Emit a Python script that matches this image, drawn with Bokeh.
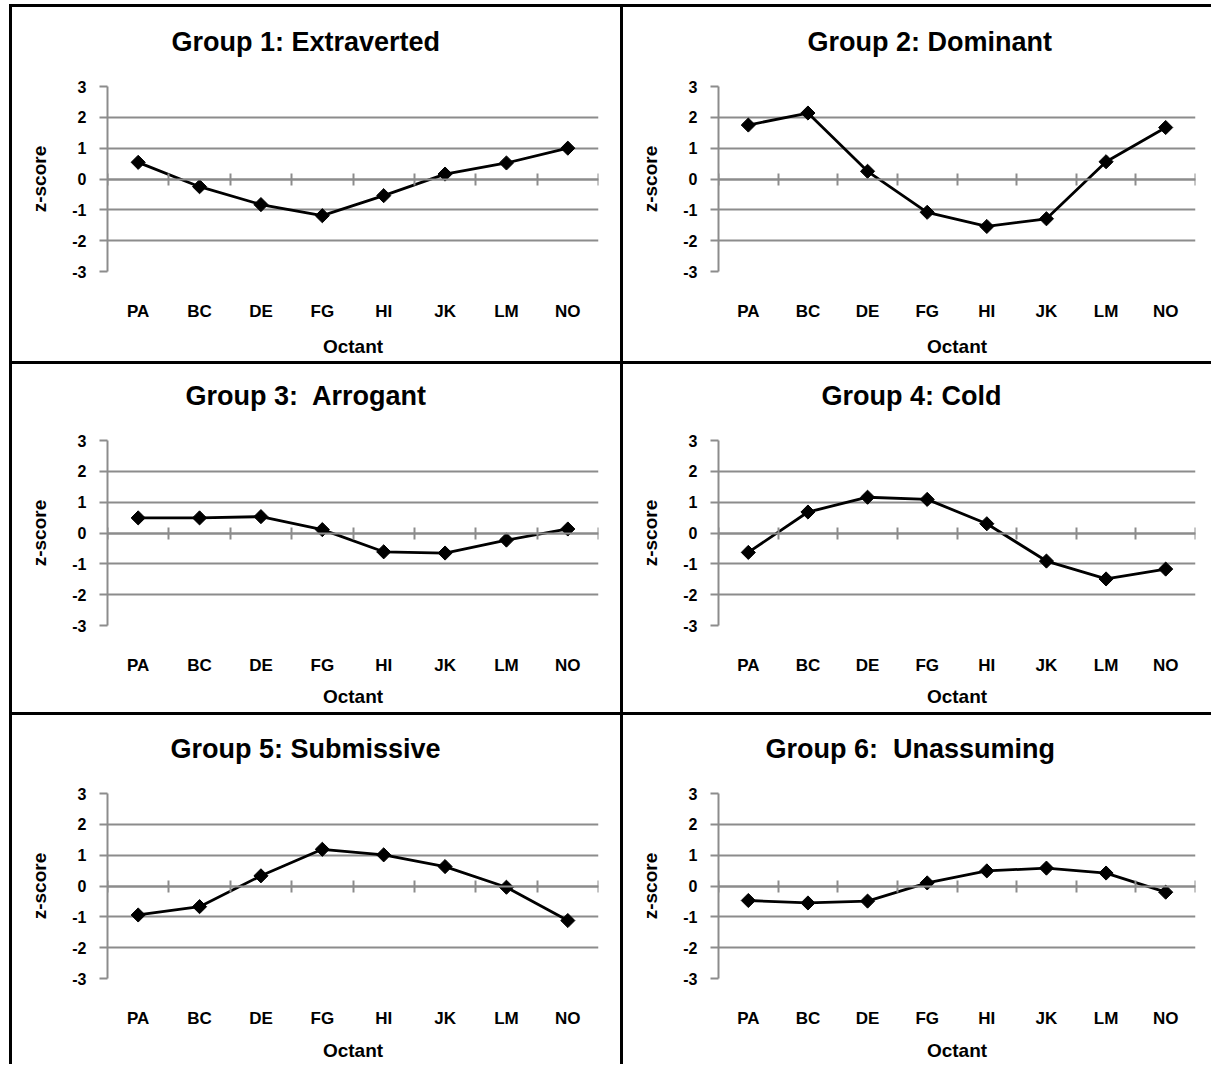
from bokeh.plotting import figure
from bokeh.layouts import row, column
from bokeh.models import Range1d, LinearAxis, FixedTicker, Spacer, Title
from bokeh.embed import file_html
from bokeh.resources import INLINE
import math

# ---------------- data ----------------
octants = ["PA", "BC", "DE", "FG", "HI", "JK", "LM", "NO"]
y_ticks = [-3, -2, -1, 0, 1, 2, 3]

titles = ["Group 1: Extraverted", "Group 2: Dominant", "Group 3:\u00a0 Arrogant",
          "Group 4: Cold", "Group 5: Submissive", "Group 6:\u00a0 Unassuming"]

group1 = [0.54, -0.25, -0.83, -1.19, -0.54, 0.16, 0.52, 1.00]
group2 = [1.75, 2.14, 0.25, -1.08, -1.54, -1.29, 0.56, 1.67]
group3 = [0.49, 0.49, 0.53, 0.11, -0.61, -0.65, -0.23, 0.13]
group4 = [-0.63, 0.68, 1.16, 1.09, 0.30, -0.91, -1.49, -1.17]
group5 = [-0.94, -0.67, 0.33, 1.19, 1.01, 0.63, -0.04, -1.12]
group6 = [-0.47, -0.55, -0.49, 0.10, 0.49, 0.58, 0.42, -0.20]

x_label = "Octant"
y_label = "z-score"

FONT = "Liberation Sans"
GRID = "#8c8c8c"
RULE = "black"

# category slots: each octant occupies one unit, centred at i + 0.5
n = len(octants)
centers = [i + 0.5 for i in range(n)]
edges = list(range(n + 1))

# ---------------- layout geometry ----------------
col_w = [608, 588]
row_h = [354, 348, 349]
col_left = [95, 95]
col_right = [22, 16]
row_top = [79, 76, 78]
row_bottom = [90, 87, 86]
xlabel_standoff = [12, 8, 9]
title_off = [[64, 89], [78, 103], [63, 47]]
TITLE_GAP = 25
RULE_W = 3


def make_panel(r, c, title, vals):
    W, H = col_w[c], row_h[r]
    p = figure(width=W, height=H,
               x_range=Range1d(0, n), y_range=Range1d(-3, 3),
               output_backend="svg", toolbar_location=None,
               min_border_left=col_left[c], min_border_right=col_right[c],
               min_border_top=row_top[r], min_border_bottom=row_bottom[r])
    p.outline_line_color = None
    p.background_fill_color = "white"
    p.border_fill_color = "white"

    p.title = Title(text=title, align="left", offset=title_off[r][c],
                    text_font=FONT, text_font_style="bold", text_font_size="27px",
                    text_color="black", standoff=4)

    # grid
    p.xgrid.visible = False
    p.ygrid.ticker = FixedTicker(ticks=y_ticks)
    p.ygrid.grid_line_color = GRID
    p.ygrid.grid_line_width = 2

    # left axis
    ya = p.yaxis[0]
    ya.ticker = FixedTicker(ticks=y_ticks)
    ya.major_label_overrides = {t: str(t) for t in y_ticks}
    ya.axis_line_color = GRID
    ya.axis_line_width = 2
    ya.major_tick_in = 0
    ya.major_tick_out = 8
    ya.major_tick_line_color = GRID
    ya.major_tick_line_width = 2
    ya.minor_tick_line_color = None
    ya.major_label_standoff = 13
    ya.major_label_text_font = FONT
    ya.major_label_text_font_style = "bold"
    ya.major_label_text_font_size = "16px"
    ya.major_label_text_color = "black"
    ya.axis_label = y_label
    ya.axis_label_standoff = 19
    ya.axis_label_text_font = FONT
    ya.axis_label_text_font_style = "bold"
    ya.axis_label_text_font_size = "19px"
    ya.axis_label_text_color = "black"

    # bottom category labels
    xa = p.xaxis[0]
    xa.ticker = FixedTicker(ticks=centers)
    xa.major_label_overrides = {cx: name for cx, name in zip(centers, octants)}
    xa.axis_line_color = None
    xa.major_tick_line_color = None
    xa.minor_tick_line_color = None
    xa.major_label_standoff = 24
    xa.major_label_text_font = FONT
    xa.major_label_text_font_style = "bold"
    xa.major_label_text_font_size = "17px"
    xa.major_label_text_color = "black"
    xa.axis_label = x_label
    xa.axis_label_standoff = xlabel_standoff[r]
    xa.axis_label_text_font = FONT
    xa.axis_label_text_font_style = "bold"
    xa.axis_label_text_font_size = "19px"
    xa.axis_label_text_color = "black"

    # crossing axis at zero with ticks between categories
    za = LinearAxis(fixed_location=0,
                    ticker=FixedTicker(ticks=edges),
                    axis_line_color=GRID, axis_line_width=2,
                    major_tick_in=6, major_tick_out=6,
                    major_tick_line_color=GRID, major_tick_line_width=2,
                    minor_tick_line_color=None,
                    major_label_text_font_size="0px",
                    major_label_overrides={e: "" for e in edges})
    p.add_layout(za, "above")

    # blank title used as a spacer between the plot area and the real title
    p.add_layout(Title(text=" ", text_font_size="1px", text_color="white",
                       standoff=TITLE_GAP), "above")

    # series
    p.line(x=centers, y=vals, line_color="black", line_width=2.8)
    p.scatter(x=centers, y=vals, marker="square", angle=math.pi / 4, size=10,
              fill_color="black", line_color="black")
    return p


groups = [group1, group2, group3, group4, group5, group6]
panels = [make_panel(i // 2, i % 2, t, g) for i, (t, g) in enumerate(zip(titles, groups))]

total_w = col_w[0] + RULE_W + col_w[1]


def vrule(h):
    return Spacer(width=RULE_W, height=h, styles={"background-color": RULE})


def hrule():
    return Spacer(width=total_w, height=RULE_W, styles={"background-color": RULE})


rows = []
for r in range(3):
    rows.append(hrule())
    rows.append(row(panels[2 * r], vrule(row_h[r]), panels[2 * r + 1]))
body = column(*rows)
total_h = sum(row_h) + 3 * RULE_W

layout = column(
    Spacer(width=10, height=4),
    row(Spacer(width=9, height=total_h), vrule(total_h), body),
)

open("out.html", "w").write(file_html(layout, INLINE))
